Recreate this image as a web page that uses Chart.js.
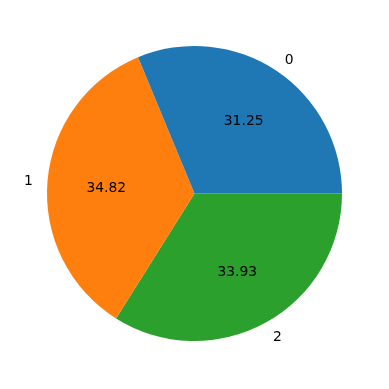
<!DOCTYPE html>
<html>
<head>
<meta charset="utf-8">
<script src="https://cdn.jsdelivr.net/npm/chart.js@4"></script>
<style>
html,body{margin:0;padding:0;background:#fff;}
canvas{display:block;}
</style>
</head>
<body>
<canvas id="c" width="389" height="389"></canvas>
<script>
const categories = ['0', '1', '2'];
const values = [31.25, 34.82, 33.93];
const colors = ['#1f77b4', '#ff7f0e', '#2ca02c'];

// matplotlib draws counterclockwise from 3 o'clock; Chart.js draws clockwise,
// so feed the slices in reverse order starting at 3 o'clock.
const order = categories.map((_, i) => i).reverse();

const FONT_PX = 13.9;
const labelPlugin = {
  id: 'pieLabels',
  afterDraw(chart) {
    const ctx = chart.ctx;
    const meta = chart.getDatasetMeta(0);
    ctx.save();
    ctx.font = FONT_PX + 'px "DejaVu Sans"';
    ctx.fillStyle = '#000';
    ctx.textBaseline = 'alphabetic';
    const dy = FONT_PX * 0.365 + 0.4;
    meta.data.forEach((arc, j) => {
      const i = order[j];
      const mid = (arc.startAngle + arc.endAngle) / 2;
      const r = arc.outerRadius;
      const cx = arc.x, cy = arc.y;
      ctx.textAlign = 'center';
      ctx.fillText(values[i].toFixed(2), cx + Math.cos(mid) * r * 0.6, cy + Math.sin(mid) * r * 0.6 + dy);
      const lx = cx + Math.cos(mid) * r * 1.1;
      const ly = cy + Math.sin(mid) * r * 1.1;
      ctx.textAlign = Math.cos(mid) >= 0 ? 'left' : 'right';
      ctx.fillText(categories[i], lx, ly + dy);
    });
    ctx.restore();
  }
};

new Chart(document.getElementById('c'), {
  type: 'pie',
  data: {
    labels: order.map(i => categories[i]),
    datasets: [{
      data: order.map(i => values[i]),
      backgroundColor: order.map(i => colors[i]),
      borderWidth: 0
    }]
  },
  options: {
    responsive: false,
    animation: false,
    rotation: 90,
    layout: { padding: { left: 47, right: 47, top: 46, bottom: 48 } },
    plugins: { legend: { display: false }, tooltip: { enabled: false } }
  },
  plugins: [labelPlugin]
});
</script>
</body>
</html>
